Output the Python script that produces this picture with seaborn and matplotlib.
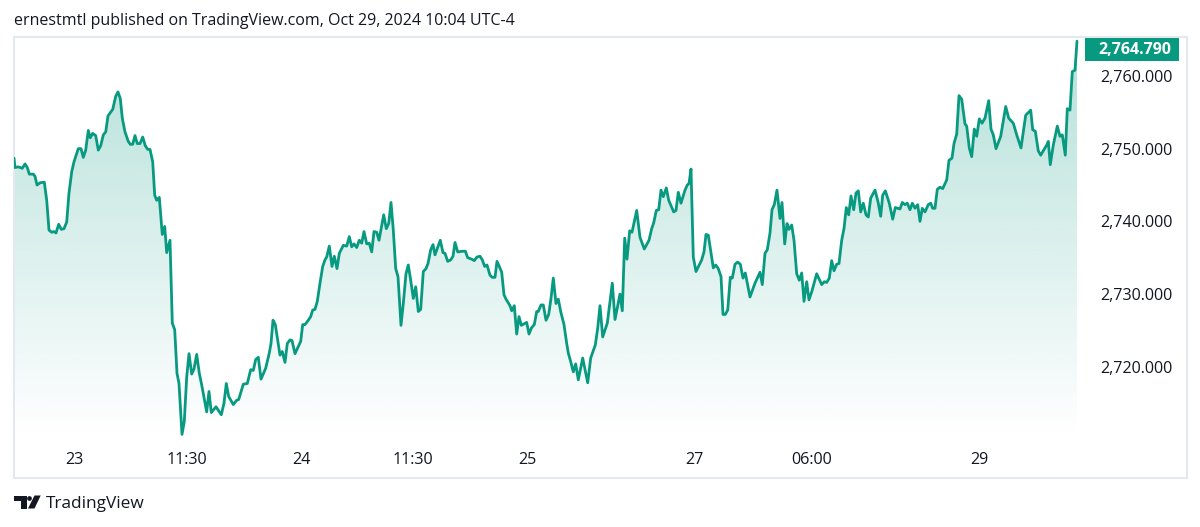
import numpy as np
import pandas as pd
import seaborn as sns
import matplotlib
matplotlib.use("Agg")
import matplotlib.pyplot as plt
from matplotlib.patches import Polygon, Rectangle

# Session positions along the time scale, and the gold price at each of them
session_pos = [
    14, 15, 18.3, 22.3, 25, 27.3, 29.3, 33.3, 35, 37,
    40, 44.3, 46.7, 49, 51.7, 54, 56, 58.7, 61.3, 64,
    66.7, 69, 71.7, 74, 78.3, 81, 83.3, 85.7, 88.3, 90.3,
    92.7, 95.7, 98.3, 100.7, 103.3, 105.7, 108, 110, 112.7, 115.7,
    118, 120.3, 122.3, 125, 128.3, 130.3, 132.7, 135, 137.3, 140,
    142.7, 145.3, 147.7, 150, 152.7, 154.7, 156.7, 159.3, 162.3, 164.7,
    166.7, 170, 172.3, 174.7, 177, 179, 182, 184.3, 186.7, 189,
    191.7, 194, 196.7, 199.3, 201.7, 206.7, 209, 211.3, 216, 221.3,
    224, 226.3, 228.7, 233.3, 236.7, 238.7, 243.3, 247.3, 250.7, 253.3,
    255.7, 258.3, 261, 265.7, 269.3, 271, 273, 275.3, 280, 282.3,
    285, 287.3, 290, 292, 295, 298.3, 300.7, 302.7, 305, 308.3,
    310.7, 312.7, 315, 317.3, 320, 322.7, 325, 326.7, 329.3, 332,
    334.3, 337, 339.3, 343.3, 346.7, 349.3, 351.7, 354, 356.7, 359.3,
    361.7, 364, 366.7, 369.3, 371.7, 374, 376.7, 379, 383.7, 386.3,
    388.7, 391, 393.3, 395.7, 398, 401, 403.3, 406, 408.3, 410.7,
    413.3, 415.7, 418.3, 420.7, 423.3, 426, 428, 430.7, 433, 435,
    437.7, 440.3, 443, 445, 447.7, 450.7, 453, 455, 457.7, 463.3,
    465.3, 467.7, 471.7, 474.3, 477, 480, 482.3, 484.7, 487, 490,
    492.3, 495, 497, 499.3, 501.7, 504, 506, 510, 511.7, 514.3,
    516.7, 519, 521.3, 526.7, 529, 531.7, 534.3, 536.7, 538.3, 541,
    543.3, 546, 548.7, 551, 553.3, 556, 558.3, 560.7, 564, 566.7,
    568.3, 570.7, 573.3, 575.7, 578.3, 582.7, 587.7, 590.7, 595.3, 597.7,
    600, 602.7, 607.3, 612.3, 615, 620, 622.3, 624.7, 627, 629.7,
    632, 636.7, 640, 644.3, 649, 651.7, 653.7, 656.3, 658.7, 661,
    663.3, 666.3, 668.7, 673.7, 676, 678.3, 681, 685, 687.3, 689,
    691, 693.3, 696, 701.7, 704, 706, 708.3, 713.3, 715.7, 718.3,
    721, 723, 725.3, 727.7, 730.3, 732.3, 735, 737.7, 740.3, 743,
    745.3, 750, 755, 760, 762.3, 765, 767.3, 770, 772, 774.3,
    777, 780, 782, 784.7, 787, 789, 791.7, 794, 796.7, 799.3,
    801.7, 804, 806.7, 809, 811.7, 816.7, 821.7, 824.3, 826.7, 829.3,
    831.7, 834, 836.7, 839, 841.7, 844, 846.3, 848.7, 851, 853.7,
    856, 858.3, 860.7, 863.3, 866, 868.3, 870.7, 875, 878, 880.7,
    882.7, 885.3, 889.3, 892.7, 895.3, 900, 902.3, 905, 907.3, 910,
    912.3, 915, 917.7, 920, 922.3, 925, 928.3, 930.7, 932.7, 935,
    937.3, 940, 942.7, 946.7, 949, 952, 954, 956.7, 959, 961.7,
    965, 966.7, 969.3, 971.7, 974.3, 976.7, 979.3, 982, 985, 988.7,
    991, 993.3, 996, 1000.7, 1005.7, 1008.7, 1013.3, 1016.7, 1021, 1025.7,
    1030.7, 1032.7, 1035.3, 1038.3, 1040.7, 1046.7, 1048.3, 1050.3, 1053.3, 1057.3,
    1060, 1062.3, 1065.3, 1067.3, 1070, 1072.3, 1075, 1077,
]
price = [
    2748.7, 2747.4, 2747.5, 2747.3, 2747.9, 2747.4, 2746.5, 2746.5, 2746.2, 2745.0,
    2745.3, 2745.4, 2742.9, 2738.8, 2738.5, 2738.6, 2738.4, 2739.6, 2738.9, 2739.0,
    2739.9, 2743.9, 2746.8, 2748.2, 2750.0, 2750.0, 2748.8, 2749.8, 2752.5, 2751.5,
    2752.1, 2751.8, 2749.8, 2750.4, 2751.9, 2752.3, 2754.5, 2754.9, 2755.4, 2757.2,
    2757.8, 2756.9, 2754.2, 2752.3, 2751.0, 2750.6, 2750.6, 2751.8, 2750.7, 2750.7,
    2751.6, 2750.4, 2749.9, 2749.9, 2748.2, 2743.6, 2742.9, 2743.3, 2738.2, 2739.3,
    2735.7, 2737.4, 2726.0, 2725.1, 2719.1, 2717.7, 2710.7, 2712.5, 2718.6, 2721.8,
    2719.0, 2719.7, 2721.7, 2719.1, 2717.5, 2713.8, 2716.6, 2713.7, 2714.5, 2713.4,
    2715.0, 2717.7, 2715.9, 2714.8, 2715.4, 2715.5, 2717.6, 2717.7, 2719.6, 2719.5,
    2721.0, 2721.3, 2718.3, 2719.8, 2721.9, 2723.2, 2726.4, 2725.8, 2721.6, 2722.1,
    2720.6, 2723.2, 2723.7, 2723.6, 2721.8, 2722.8, 2723.5, 2725.8, 2725.8, 2726.4,
    2726.9, 2727.8, 2727.9, 2729.0, 2731.5, 2733.8, 2734.7, 2735.1, 2736.6, 2733.8,
    2735.2, 2733.5, 2735.6, 2736.7, 2736.6, 2737.9, 2736.5, 2736.9, 2736.4, 2737.4,
    2737.0, 2738.6, 2736.9, 2737.0, 2735.8, 2738.6, 2738.5, 2737.4, 2740.9, 2739.0,
    2739.7, 2742.6, 2738.8, 2733.5, 2732.4, 2725.7, 2728.7, 2732.8, 2734.0, 2731.9,
    2729.4, 2731.0, 2727.6, 2727.9, 2733.1, 2733.5, 2734.2, 2736.1, 2736.8, 2735.4,
    2736.4, 2737.4, 2735.7, 2735.6, 2734.5, 2734.7, 2735.2, 2737.1, 2735.8, 2735.9,
    2735.9, 2735.0, 2734.8, 2734.6, 2735.1, 2735.2, 2734.7, 2733.8, 2734.0, 2732.6,
    2732.3, 2732.3, 2734.5, 2733.8, 2733.0, 2729.9, 2729.3, 2728.4, 2727.7, 2728.4,
    2724.5, 2726.9, 2725.7, 2726.1, 2724.5, 2725.4, 2725.8, 2727.6, 2727.6, 2728.5,
    2728.5, 2726.4, 2727.2, 2729.4, 2732.2, 2728.7, 2729.3, 2727.6, 2725.8, 2723.2,
    2721.9, 2720.7, 2719.3, 2720.4, 2718.2, 2721.2, 2717.8, 2721.2, 2723.0, 2725.3,
    2728.4, 2724.1, 2726.0, 2731.5, 2726.5, 2730.0, 2727.7, 2737.7, 2734.8, 2738.7,
    2738.5, 2741.5, 2737.8, 2736.2, 2737.4, 2739.0, 2739.8, 2741.5, 2741.6, 2744.3,
    2743.4, 2744.6, 2742.9, 2741.3, 2741.5, 2744.0, 2742.5, 2744.3, 2745.0, 2745.2,
    2747.2, 2735.1, 2733.1, 2734.7, 2735.8, 2738.2, 2738.1, 2733.6, 2734.0, 2733.5,
    2732.4, 2727.2, 2727.2, 2727.8, 2732.3, 2732.2, 2734.1, 2734.4, 2734.1, 2732.2,
    2732.9, 2729.6, 2731.5, 2733.0, 2731.3, 2735.6, 2736.1, 2738.4, 2741.6, 2742.3,
    2744.3, 2740.4, 2742.6, 2736.9, 2739.7, 2738.9, 2739.5, 2737.4, 2732.8, 2731.9,
    2732.9, 2729.0, 2731.7, 2729.2, 2730.3, 2732.8, 2731.3, 2731.7, 2731.6, 2732.2,
    2734.6, 2733.2, 2734.1, 2734.2, 2737.4, 2739.0, 2741.9, 2740.9, 2743.5, 2741.6,
    2743.9, 2744.2, 2741.3, 2742.5, 2740.9, 2740.6, 2743.2, 2744.3, 2742.7, 2740.7,
    2743.6, 2744.2, 2742.5, 2740.3, 2741.9, 2741.7, 2742.6, 2742.3, 2742.5, 2741.6,
    2742.5, 2741.8, 2742.3, 2740.0, 2741.8, 2741.3, 2742.3, 2742.5, 2741.8, 2741.8,
    2744.4, 2744.7, 2744.5, 2745.7, 2748.4, 2748.7, 2750.7, 2752.0, 2757.3, 2756.8,
    2753.4, 2753.1, 2750.1, 2748.9, 2752.7, 2751.7, 2754.1, 2753.5, 2754.2, 2756.6,
    2752.7, 2751.9, 2750.0, 2751.7, 2755.8, 2754.2, 2753.5, 2751.9, 2750.1, 2754.6,
    2755.3, 2752.6, 2752.4, 2749.7, 2749.1, 2750.5, 2751.0, 2747.8, 2750.5, 2753.1,
    2751.7, 2751.9, 2749.1, 2755.5, 2755.3, 2760.6, 2760.8, 2764.79,
]

time_tick_pos = [74, 187, 301, 413, 527, 694, 812, 979]
time_tick_labels = ["23", "11:30", "24", "11:30", "25", "27", "06:00", "29"]
price_ticks = [2720, 2730, 2740, 2750, 2760]
last_price_label = "2,764.790"
header = "ernestmtl published on TradingView.com, Oct 29, 2024 10:04 UTC-4"
brand = "TradingView"

GREEN = "#089981"
INK = "#131722"
BORDER = "#e6e8ef"
W, H = 1200, 527

sns.set_theme(style="white")
plt.rcParams["font.family"] = ["Open Sans", "DejaVu Sans"]

df = pd.DataFrame({"pos": session_pos, "price": price})

fig = plt.figure(figsize=(W / 100, H / 100), dpi=100, facecolor="white")
ax = fig.add_axes([14 / W, 1 - 478 / H, (1187 - 14) / W, (478 - 37) / H])

# Area under the line: a vertical green fade clipped to the series outline
fade = np.zeros((256, 1, 4))
fade[..., :3] = matplotlib.colors.to_rgb(GREEN)
fade[..., 3] = np.linspace(0.30, 0.0, 256)[:, None]
img = ax.imshow(fade, extent=(14, 1077, df["price"].min() - 0.5, df["price"].max()),
                origin="upper", aspect="auto", zorder=1)
clip = Polygon(np.column_stack([[*session_pos, 1077, 14], [*price, 2704.7, 2704.7]]),
               transform=ax.transData, fc="none", ec="none")
ax.add_patch(clip)
img.set_clip_path(clip)

sns.lineplot(data=df, x="pos", y="price", ax=ax, color=GREEN, lw=2.0, sort=False,
             errorbar=None, estimator=None, zorder=3)

ax.set_xlim(14, 1187)
ax.set_ylim(2704.7, 2765.36)
ax.set_xlabel("")
ax.set_ylabel("")
for spine in ax.spines.values():
    spine.set_color(BORDER)
    spine.set_linewidth(1.5)

ax.set_xticks(time_tick_pos, time_tick_labels)
ax.set_yticks(price_ticks, [f"{v:,.3f}" for v in price_ticks])
ax.yaxis.tick_right()
ax.tick_params(axis="x", length=0, pad=-18.5, labelsize=11.6, labelcolor=INK)
ax.tick_params(axis="y", length=0, pad=-10.6, labelsize=11.6, labelcolor=INK)
for lab in ax.get_yticklabels():
    lab.set_ha("right")

# Last-price badge on the scale
fig.add_artist(Rectangle((1085 / W, 1 - 61 / H), 94 / W, 23 / H, transform=fig.transFigure,
                         fc=GREEN, ec="none", zorder=6))
fig.text(1171.5 / W, 1 - 49.5 / H, last_price_label, color="white", ha="right", va="center",
         fontsize=11.5, fontweight="bold", zorder=7)

fig.text(14 / W, 1 - 21 / H, header, color=INK, ha="left", va="center", fontsize=11.5)


# Brand mark and name under the chart
def px(points):
    return [(x / W, 1 - y / H) for x, y in points]


fig.add_artist(Polygon(px([(14, 495.5), (26.5, 495.5), (26.5, 508.5), (20.5, 508.5),
                           (20.5, 501), (14, 501)]), transform=fig.transFigure, fc=INK, ec="none"))
fig.add_artist(Polygon(px([(34.5, 495.5), (40.7, 495.5), (34.5, 508.5), (28, 508.5)]),
                       transform=fig.transFigure, fc=INK, ec="none"))
fig.add_artist(plt.Line2D([29.2 / W], [1 - 498.2 / H], marker="o", ms=3.4, color=INK,
                          mec="none", transform=fig.transFigure))
fig.text(46 / W, 1 - 503.5 / H, brand, color=INK, ha="left", va="center", fontsize=12.4)

fig.savefig("out.png", dpi=100, facecolor="white")
